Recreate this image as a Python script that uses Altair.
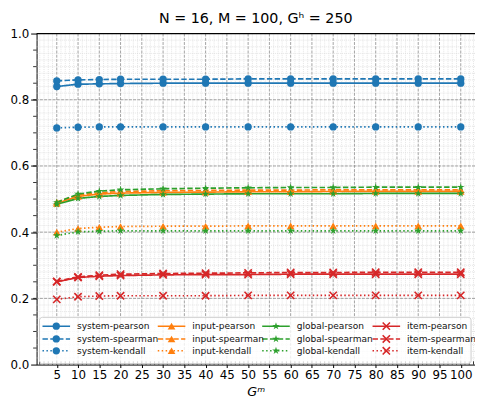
import altair as alt
import pandas as pd
import numpy as np

# ---------------- data ----------------
gm = [5, 10, 15, 20, 30, 40, 50, 60, 70, 80, 90, 100]

system_pearson = [0.840, 0.847, 0.848, 0.849, 0.850, 0.850, 0.850, 0.850, 0.850, 0.850, 0.850, 0.850]
system_spearman = [0.857, 0.860, 0.861, 0.862, 0.862, 0.862, 0.863, 0.863, 0.863, 0.863, 0.863, 0.863]
system_kendall = [0.715, 0.717, 0.718, 0.718, 0.718, 0.718, 0.718, 0.718, 0.718, 0.718, 0.718, 0.718]
input_pearson = [0.487, 0.508, 0.515, 0.518, 0.520, 0.521, 0.522, 0.522, 0.523, 0.523, 0.523, 0.523]
input_spearman = [0.491, 0.512, 0.519, 0.523, 0.525, 0.526, 0.527, 0.527, 0.528, 0.528, 0.528, 0.528]
input_kendall = [0.400, 0.411, 0.415, 0.417, 0.418, 0.418, 0.419, 0.419, 0.419, 0.419, 0.419, 0.419]
global_pearson = [0.484, 0.502, 0.508, 0.511, 0.514, 0.515, 0.516, 0.516, 0.516, 0.517, 0.517, 0.517]
global_spearman = [0.490, 0.515, 0.524, 0.528, 0.531, 0.533, 0.534, 0.535, 0.535, 0.536, 0.536, 0.536]
global_kendall = [0.390, 0.401, 0.403, 0.404, 0.404, 0.404, 0.404, 0.404, 0.404, 0.404, 0.404, 0.404]
item_pearson = [0.250, 0.263, 0.267, 0.269, 0.271, 0.272, 0.272, 0.273, 0.273, 0.273, 0.273, 0.273]
item_spearman = [0.251, 0.265, 0.270, 0.273, 0.275, 0.276, 0.277, 0.278, 0.278, 0.279, 0.279, 0.279]
item_kendall = [0.197, 0.205, 0.207, 0.208, 0.208, 0.208, 0.209, 0.209, 0.209, 0.209, 0.209, 0.209]

groups = ["system", "input", "global", "item"]
metrics = ["pearson", "spearman", "kendall"]
series = {
    ("system", "pearson"): system_pearson,
    ("system", "spearman"): system_spearman,
    ("system", "kendall"): system_kendall,
    ("input", "pearson"): input_pearson,
    ("input", "spearman"): input_spearman,
    ("input", "kendall"): input_kendall,
    ("global", "pearson"): global_pearson,
    ("global", "spearman"): global_spearman,
    ("global", "kendall"): global_kendall,
    ("item", "pearson"): item_pearson,
    ("item", "spearman"): item_spearman,
    ("item", "kendall"): item_kendall,
}

x_ticks = list(range(5, 101, 5))
y_ticks = [0.0, 0.2, 0.4, 0.6, 0.8, 1.0]

# ---------------- styling ----------------
W, H = 445, 336
X_DOMAIN = [0.25, 103.35]
FONT = "DejaVu Sans"
colors = ["#1f77b4", "#ff7f0e", "#2ca02c", "#d62728"]
dashes = [[1, 0], [5.5, 2.4], [1.5, 2.5]]
STAR = ("M0,-1L0.2245,-0.309L0.951,-0.309L0.363,0.118L0.588,0.809L0,0.382"
        "L-0.588,0.809L-0.363,0.118L-0.951,-0.309L-0.2245,-0.309Z")
XSHAPE = "M-1,-1L1,1M-1,1L1,-1"
shape_scale = alt.Scale(domain=["system", "input", "global"], range=["circle", "triangle-up", STAR])
size_scale = alt.Scale(domain=["system", "input", "global"], range=[55, 65, 115])

rows = []
for (g, m), vals in series.items():
    for xv, yv in zip(gm, vals):
        rows.append({"gm": xv, "val": yv, "group": g, "metric": m, "key": f"{g}-{m}"})
df = pd.DataFrame(rows)

xs = alt.Scale(domain=X_DOMAIN, nice=False, zero=False)
ys = alt.Scale(domain=[0, 1], nice=False, zero=False)
cs = alt.Scale(domain=groups, range=colors)
ds = alt.Scale(domain=metrics, range=dashes)

XAX = alt.Axis(values=x_ticks, grid=False, tickSize=3, labelFontSize=12, labelFont=FONT,
               labelColor="black", tickColor="black", domainColor="black", domainWidth=1,
               tickWidth=1, labelPadding=2, labelFlush=False, title="Gᵐ", titleFont=FONT,
               titleFontSize=13, titleFontStyle="italic", titleFontWeight="normal",
               titleColor="black", titlePadding=5)
YAX = alt.Axis(values=y_ticks, format=".1f", grid=False, tickSize=6, labelFontSize=12,
               labelFont=FONT, labelColor="black", tickColor="black", domainColor="black",
               domainWidth=1, tickWidth=1, labelPadding=2, title=None, labelFlush=False)


def X(f):
    return alt.X(f, scale=xs, axis=XAX)


def Y(f):
    return alt.Y(f, scale=ys, axis=YAX)


# grid data
minor_x = pd.DataFrame({"x": [v for v in range(1, 104) if v % 5 != 0]})
minor_y = pd.DataFrame({"y": [round(v, 3) for v in np.arange(0.02, 1.0, 0.02)]})
major_x = pd.DataFrame({"x": x_ticks})
major_y = pd.DataFrame({"y": y_ticks[1:-1]})
ytick_minor = pd.DataFrame({"y": [round(v, 3) for v in np.arange(0.05, 1.0, 0.05)]})

grid_minor_x = alt.Chart(minor_x).mark_rule(color="#d9d9d9", strokeWidth=0.7, strokeDash=[1, 1]).encode(
    x=X("x:Q"))
grid_minor_y = alt.Chart(minor_y).mark_rule(color="#d9d9d9", strokeWidth=0.7, strokeDash=[1, 1]).encode(
    y=Y("y:Q"))
grid_major_x = alt.Chart(major_x).mark_rule(color="#8c8c8c", strokeWidth=0.8, strokeDash=[3, 1.3]).encode(
    x=X("x:Q"))
grid_major_y = alt.Chart(major_y).mark_rule(color="#8c8c8c", strokeWidth=0.8, strokeDash=[3, 1.3]).encode(
    y=Y("y:Q"))

# minor ticks (x inward at every unit, y outward at 0.05)
xtick_minor = alt.Chart(pd.DataFrame({"x": list(range(1, 104))})).mark_rule(color="black", strokeWidth=0.8).encode(
    x=X("x:Q"), y=alt.value(H - 3.3), y2=alt.value(H))
ytick_minor_l = alt.Chart(ytick_minor).mark_rule(color="black", strokeWidth=0.8).encode(
    y=Y("y:Q"), x=alt.value(-3.5), x2=alt.value(0))
top_spine = alt.Chart(pd.DataFrame({"y": [1.0]})).mark_rule(color="black", strokeWidth=1.2).encode(
    y=Y("y:Q"), x=alt.value(0), x2=alt.value(W))

base = alt.Chart(df)
lines = base.mark_line(strokeWidth=1.7).encode(
    x=X("gm:Q"),
    y=Y("val:Q"),
    color=alt.Color("group:N", scale=cs, legend=None),
    strokeDash=alt.StrokeDash("metric:N", scale=ds, legend=None),
    detail="key:N",
)

pts_filled = base.transform_filter(alt.datum.group != "item").mark_point(filled=True, opacity=1).encode(
    x=X("gm:Q"),
    y=Y("val:Q"),
    color=alt.Color("group:N", scale=cs, legend=None),
    shape=alt.Shape("group:N", scale=shape_scale, legend=None),
    size=alt.Size("group:N", scale=size_scale, legend=None),
)
pts_x = base.transform_filter(alt.datum.group == "item").mark_point(
    filled=False, shape=XSHAPE, size=55, strokeWidth=1.6, opacity=1).encode(
    x=X("gm:Q"),
    y=Y("val:Q"),
    color=alt.Color("group:N", scale=cs, legend=None),
)

# ---------------- legend ----------------
col_text_x = [41, 158, 264, 376]
row_y = [297, 310, 322]
leg_rows = []
for gi, g in enumerate(groups):
    for mi, m in enumerate(metrics):
        tx = col_text_x[gi]
        leg_rows.append({"group": g, "metric": m, "label": f"{g}-{m}",
                         "tx": tx, "lx1": tx - 35, "lx2": tx - 7, "mx": tx - 21, "ly": row_y[mi]})
leg = pd.DataFrame(leg_rows)

leg_box = alt.Chart(pd.DataFrame({"a": [0]})).mark_rect(
    fill="white", fillOpacity=0.8, stroke="#cccccc", strokeWidth=1, cornerRadius=3).encode(
    x=alt.value(3), x2=alt.value(441), y=alt.value(288), y2=alt.value(335))
leg_lines = alt.Chart(leg).mark_rule(strokeWidth=1.5).encode(
    x=alt.X("lx1:Q", scale=None), x2="lx2:Q", y=alt.Y("ly:Q", scale=None),
    color=alt.Color("group:N", scale=cs, legend=None),
    strokeDash=alt.StrokeDash("metric:N", scale=ds, legend=None),
)
leg_pts = alt.Chart(leg).transform_filter(alt.datum.group != "item").mark_point(
    filled=True, opacity=1).encode(
    x=alt.X("mx:Q", scale=None), y=alt.Y("ly:Q", scale=None),
    color=alt.Color("group:N", scale=cs, legend=None),
    shape=alt.Shape("group:N", scale=shape_scale, legend=None),
    size=alt.Size("group:N", scale=size_scale, legend=None),
)
leg_ptx = alt.Chart(leg).transform_filter(alt.datum.group == "item").mark_point(
    filled=False, shape=XSHAPE, size=55, strokeWidth=1.6, opacity=1).encode(
    x=alt.X("mx:Q", scale=None), y=alt.Y("ly:Q", scale=None),
    color=alt.Color("group:N", scale=cs, legend=None),
)
leg_text = alt.Chart(leg).mark_text(align="left", baseline="middle", font=FONT, fontSize=9.2,
                                    color="#111111").encode(
    x=alt.X("tx:Q", scale=None), y=alt.Y("ly:Q", scale=None), text="label:N")

chart = alt.layer(
    grid_minor_x, grid_minor_y, grid_major_x, grid_major_y,
    lines, pts_filled, pts_x,
    xtick_minor, ytick_minor_l, top_spine,
    leg_box, leg_lines, leg_pts, leg_ptx, leg_text,
).properties(
    width=W, height=H,
    title=alt.TitleParams("N = 16, M = 100, Gʰ = 250", font=FONT, fontSize=14.5,
                          fontWeight="normal", color="black", anchor="middle", offset=1),
    autosize=alt.AutoSizeParams(type="none"),
    padding={"left": 29, "top": 23, "right": 0, "bottom": 32},
).configure_view(stroke=None)

chart.save("out.html", embed_options={"renderer": "svg", "actions": False})
